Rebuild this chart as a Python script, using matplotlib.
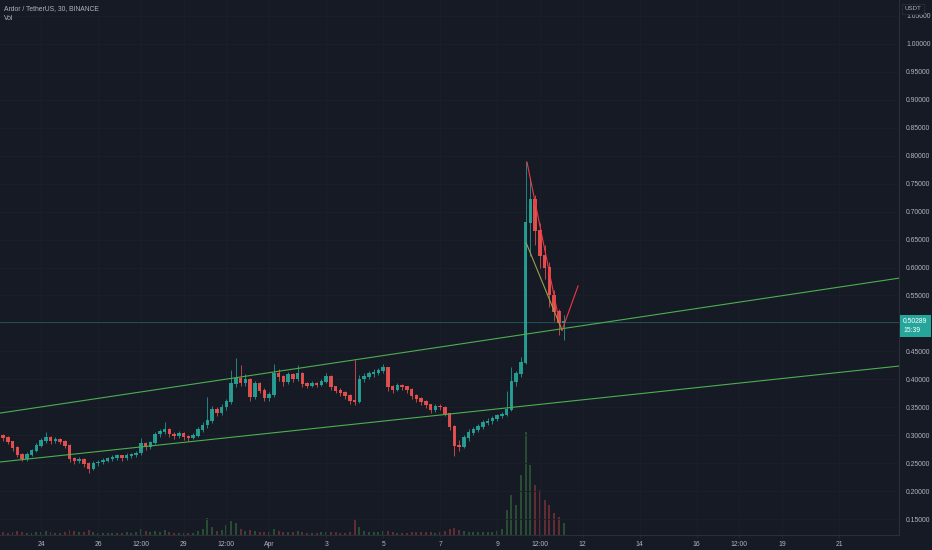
import matplotlib
matplotlib.use("Agg")
import matplotlib.pyplot as plt
import numpy as np

plt.rcParams["font.family"] = ["Liberation Sans", "DejaVu Sans"]

# ---------------------------------------------------------------------------
# Data (ARDR/USDT, resampled to 4h candles; x = day number counted from Mar 0)
# ---------------------------------------------------------------------------
FIRST_T = 22.5          # Mar 22 12:00
STEP = 1 / 6            # 4 hours
FIRST_OPEN = 0.302

close = [
    0.300, 0.296, 0.288, 0.278, 0.266, 0.258, 0.266, 0.272, 0.282, 0.290,
    0.296, 0.290, 0.292, 0.289, 0.282, 0.258, 0.254, 0.257, 0.249, 0.241,
    0.250, 0.252, 0.255, 0.258, 0.260, 0.263, 0.259, 0.263, 0.265, 0.268,
    0.285, 0.279, 0.286, 0.302, 0.306, 0.310, 0.302, 0.299, 0.303, 0.297,
    0.296, 0.299, 0.310, 0.318, 0.326, 0.345, 0.341, 0.350, 0.360, 0.392,
    0.402, 0.394, 0.400, 0.368, 0.392, 0.380, 0.367, 0.372, 0.410, 0.404,
    0.395, 0.408, 0.401, 0.410, 0.392, 0.389, 0.392, 0.391, 0.396, 0.405,
    0.386, 0.380, 0.376, 0.371, 0.362, 0.360, 0.400, 0.405, 0.410, 0.412,
    0.416, 0.420, 0.386, 0.382, 0.388, 0.386, 0.381, 0.370, 0.365, 0.360,
    0.354, 0.345, 0.352, 0.350, 0.338, 0.315, 0.282, 0.280, 0.295, 0.305,
    0.310, 0.315, 0.322, 0.325, 0.330, 0.335, 0.337, 0.346, 0.395, 0.410,
    0.430, 0.680, 0.720, 0.665, 0.620, 0.600, 0.550, 0.520, 0.500, 0.50289,
]
high = [
    0.306, 0.303, 0.299, 0.290, 0.281, 0.268, 0.270, 0.276, 0.286, 0.296,
    0.306, 0.299, 0.297, 0.296, 0.292, 0.284, 0.262, 0.262, 0.259, 0.252,
    0.254, 0.256, 0.259, 0.262, 0.265, 0.267, 0.266, 0.268, 0.269, 0.272,
    0.295, 0.288, 0.290, 0.306, 0.311, 0.324, 0.313, 0.306, 0.308, 0.306,
    0.301, 0.304, 0.315, 0.324, 0.369, 0.352, 0.350, 0.356, 0.366, 0.417,
    0.438, 0.426, 0.410, 0.403, 0.398, 0.396, 0.384, 0.378, 0.428, 0.418,
    0.408, 0.414, 0.412, 0.426, 0.413, 0.396, 0.397, 0.396, 0.401, 0.412,
    0.408, 0.389, 0.384, 0.379, 0.374, 0.435, 0.408, 0.411, 0.416, 0.418,
    0.421, 0.427, 0.422, 0.390, 0.393, 0.392, 0.389, 0.384, 0.374, 0.368,
    0.363, 0.357, 0.356, 0.356, 0.352, 0.340, 0.318, 0.292, 0.300, 0.311,
    0.316, 0.320, 0.327, 0.331, 0.334, 0.339, 0.342, 0.380, 0.422, 0.416,
    0.440, 0.790, 0.760, 0.730, 0.680, 0.640, 0.610, 0.560, 0.525, 0.515,
]
low = [
    0.296, 0.290, 0.284, 0.272, 0.262, 0.254, 0.255, 0.263, 0.270, 0.279,
    0.287, 0.285, 0.287, 0.285, 0.277, 0.253, 0.249, 0.251, 0.244, 0.233,
    0.238, 0.246, 0.249, 0.252, 0.255, 0.257, 0.255, 0.256, 0.260, 0.262,
    0.266, 0.274, 0.276, 0.284, 0.298, 0.302, 0.297, 0.294, 0.296, 0.292,
    0.291, 0.293, 0.297, 0.306, 0.314, 0.322, 0.334, 0.337, 0.346, 0.356,
    0.386, 0.388, 0.388, 0.362, 0.365, 0.375, 0.362, 0.362, 0.369, 0.398,
    0.389, 0.392, 0.396, 0.398, 0.386, 0.384, 0.386, 0.386, 0.388, 0.393,
    0.381, 0.375, 0.371, 0.366, 0.357, 0.354, 0.358, 0.396, 0.401, 0.405,
    0.408, 0.411, 0.380, 0.376, 0.379, 0.381, 0.376, 0.365, 0.360, 0.355,
    0.349, 0.340, 0.342, 0.345, 0.334, 0.310, 0.263, 0.272, 0.277, 0.291,
    0.301, 0.306, 0.311, 0.318, 0.321, 0.326, 0.331, 0.334, 0.343, 0.388,
    0.405, 0.428, 0.620, 0.640, 0.600, 0.580, 0.530, 0.505, 0.480, 0.470,
]
volume = [
    3, 3, 2, 3, 4, 3, 2, 2, 3, 3,
    4, 3, 2, 2, 3, 5, 4, 3, 3, 5,
    3, 2, 2, 2, 2, 2, 2, 3, 2, 3,
    6, 4, 3, 4, 3, 5, 3, 2, 2, 2,
    2, 2, 4, 6, 17, 8, 4, 5, 10, 14,
    12, 6, 4, 5, 4, 3, 3, 3, 6, 4,
    3, 3, 3, 4, 3, 2, 2, 2, 3, 3,
    3, 3, 2, 2, 3, 16, 8, 4, 3, 3,
    3, 4, 4, 3, 2, 2, 2, 3, 3, 3,
    3, 3, 2, 3, 4, 6, 7, 5, 4, 3,
    3, 3, 3, 3, 3, 4, 6, 25, 40, 30,
    60, 103, 70, 50, 45, 35, 30, 22, 18, 12,
]

# user drawings: (x0, y0, x1, y1, colour)
channel_lines = [
    (22.56, 0.340, 54.10, 0.581, "#4caf50"),
    (22.56, 0.2527, 54.10, 0.424, "#4caf50"),
]
wedge_lines = [
    (41.05, 0.788, 42.21, 0.497, "#f23645"),
    (41.02, 0.644, 42.28, 0.488, "#9aa04a"),
    (42.28, 0.488, 42.84, 0.567, "#f23645"),
]

xtick_pos = [24, 26, 27.5, 29, 30.5, 32, 34, 36, 38, 40, 41.5, 43, 45, 47, 48.5, 50, 52]
xtick_lab = ["24", "26", "12:00", "29", "12:00", "Apr", "3", "5", "7", "9",
             "12:00", "12", "14", "16", "12:00", "19", "21"]
ytick_pos = [0.15, 0.20, 0.25, 0.30, 0.35, 0.40, 0.45, 0.50, 0.55, 0.60,
             0.65, 0.70, 0.75, 0.80, 0.85, 0.90, 0.95, 1.00, 1.05]

BG = "#161a25"
TXT = "#b2b5be"
AXC = "#2a2e39"
UP = "#26a69a"
DOWN = "#ef5350"

# ---------------------------------------------------------------------------
fig = plt.figure(figsize=(9.32, 5.5), dpi=100, facecolor=BG)
W, H = 932, 550
ax = fig.add_axes([0, 15 / H, 899 / W, 535 / H])
vax = ax.twinx()
ax.set_zorder(vax.get_zorder() + 1)
ax.patch.set_visible(False)
vax.patch.set_facecolor(BG)

n = len(close)
t = FIRST_T + np.arange(n) * STEP
c = np.array(close)
o = np.concatenate([[FIRST_OPEN], c[:-1]])
h = np.array(high)
l = np.array(low)
up = c >= o
cols = np.where(up, UP, DOWN)
vcols = np.where(up, "#4caf50", DOWN)

# volume
vax.bar(t, volume, width=STEP * 0.4, color=vcols, alpha=0.35, linewidth=0)
vax.set_ylim(0, max(volume) * 535 / 103)
vax.set_yticks([])
for s in vax.spines.values():
    s.set_visible(False)

# candles
ax.vlines(t, l, h, colors=cols, lw=0.6, alpha=0.9, zorder=3)
ax.bar(t, np.abs(c - o) + 0.0015, bottom=np.minimum(o, c), width=STEP * 0.75,
       color=cols, alpha=0.9, linewidth=0, zorder=4)

for x0, y0, x1, y1, col in channel_lines + wedge_lines:
    ax.plot([x0, x1], [y0, y1], color=col, lw=0.8, zorder=5)

last = close[-1]
ax.axhline(last, color=UP, lw=0.6, alpha=0.45, zorder=2)

ax.set_xlim(22.56, 54.10)
ax.set_ylim(0.1223, 1.0777)

ax.set_xticks(xtick_pos)
ax.set_xticklabels(xtick_lab)
ax.set_yticks(ytick_pos)
# the 0.50000 label sits under the last-price tag
ax.set_yticklabels(["" if abs(v - 0.50) < 1e-9 else f"{v:.5f}" for v in ytick_pos])
ax.yaxis.tick_right()
ax.tick_params(axis="y", length=0, pad=5, labelsize=4.9, labelcolor=TXT)
ax.tick_params(axis="x", length=2, width=0.5, color=AXC, pad=2,
               labelsize=4.9, labelcolor=TXT)
ax.grid(color="#1b1f2a", lw=0.6, zorder=0)

for side in ("top", "left"):
    ax.spines[side].set_visible(False)
ax.spines["bottom"].set_color(AXC)
ax.spines["right"].set_color(AXC)
ax.spines["bottom"].set_linewidth(0.8)
ax.spines["right"].set_linewidth(0.8)

# price tag
ax.annotate(f"{last:.5f}\n15:39", xy=(1, last), xycoords=("axes fraction", "data"),
            xytext=(3, -3), textcoords="offset points", ha="left", va="center",
            fontsize=4.9, color="white", linespacing=1.3,
            bbox=dict(boxstyle="square,pad=0.5", fc=UP, ec="none"),
            annotation_clip=False, zorder=10)

fig.text(913 / W, 1 - 9 / H, "USDT", fontsize=4.4, color=TXT, ha="center", va="center",
         bbox=dict(boxstyle="square,pad=0.35", fc=BG, ec=AXC, lw=0.6))
fig.text(4 / W, 1 - 9 / H, "Ardor / TetherUS, 30, BINANCE", fontsize=4.9,
         color=TXT, ha="left", va="center")
fig.text(4 / W, 1 - 19 / H, "Vol", fontsize=4.9, color=TXT, ha="left", va="center")

fig.savefig("out.png", dpi=100, facecolor=BG)
